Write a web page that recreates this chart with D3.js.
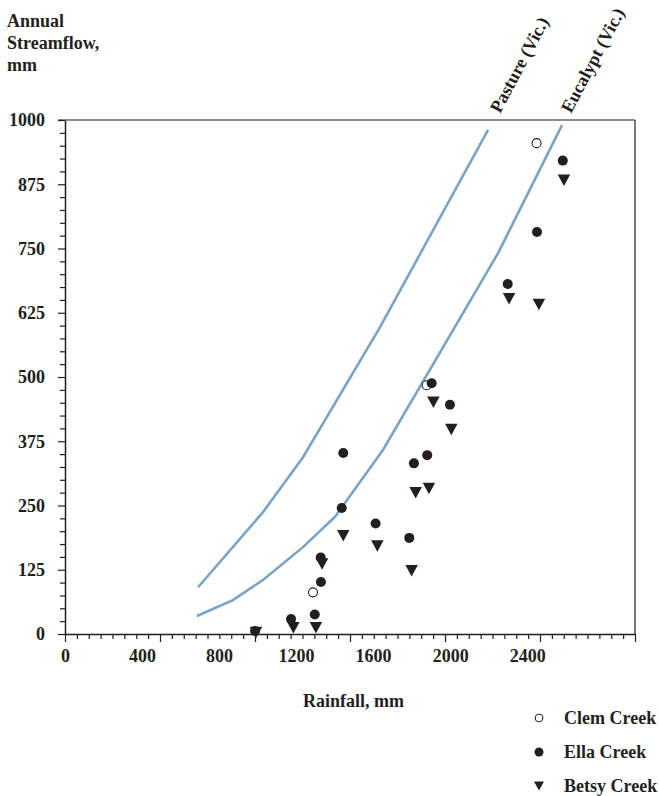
<!DOCTYPE html>
<html>
<head>
<meta charset="utf-8">
<script src="https://cdn.jsdelivr.net/npm/d3@7"></script>
<style>
  body { margin: 0; background: #fff; }
  svg text { font-family: "Liberation Serif", "Times New Roman", serif; font-weight: bold; fill: #231f20; }
</style>
</head>
<body>
<svg id="chart"></svg>
<script>
// Annual streamflow vs rainfall

// curves
const pastureRain = [691, 1028, 1236, 1636, 2197];
const pastureFlow = [91, 237, 344, 597, 981];
const eucalyptRain = [685, 872, 1028, 1236, 1402, 1651, 2249, 2581];
const eucalyptFlow = [35, 66, 105, 169, 228, 358, 741, 990];

// catchment points
const clemRain = [1288, 1878, 2449];
const clemFlow = [81, 484, 955];
const ellaRain = [987, 1174, 1297, 1329, 1328, 1437, 1445, 1613, 1788, 1812, 1881, 1904, 1999, 2299, 2451, 2585];
const ellaFlow = [6, 29, 38, 101, 149, 245, 352, 215, 187, 332, 348, 488, 446, 681, 782, 921];
const betsyRain = [992, 1186, 1303, 1335, 1445, 1622, 1800, 1821, 1890, 1913, 2006, 2306, 2461, 2591];
const betsyFlow = [3, 12, 12, 136, 191, 171, 123, 275, 283, 451, 398, 652, 641, 883];

// axis labels
const xLabels = [0, 400, 800, 1200, 1600, 2000, 2400];
const yLabels = [0, 125, 250, 375, 500, 625, 750, 875, 1000];
const legendNames = ["Clem Creek", "Ella Creek", "Betsy Creek"];

const width = 659, height = 796;
const lineColor = "#7ba3c6";
const ink = "#231f20";

const svg = d3.select("#chart").attr("width", width).attr("height", height);

const x = d3.scaleLinear().domain([0, 2960]).range([65, 635]);
const y = d3.scaleLinear().domain([0, 1000]).range([634, 120]);

// frame (top and right)
svg.append("line")
  .attr("x1", x(0) - 7).attr("x2", x(2960))
  .attr("y1", y(1000)).attr("y2", y(1000))
  .attr("stroke", ink).attr("stroke-width", 1.2);
svg.append("line")
  .attr("x1", x(2960)).attr("x2", x(2960))
  .attr("y1", y(1000)).attr("y2", y(0))
  .attr("stroke", ink).attr("stroke-width", 1.2);

// x ticks: 48 divisions, longer every 8th
const xTicks = d3.range(0, 49).map(i => i * 2960 / 48);
svg.append("g")
  .attr("transform", `translate(0,${y(0)})`)
  .call(d3.axisBottom(x).tickValues(xTicks).tickSize(5).tickFormat("").tickSizeOuter(0))
  .call(g => g.select(".domain").attr("stroke", ink).attr("stroke-width", 1.5))
  .call(g => g.selectAll(".tick line")
    .attr("stroke", ink).attr("stroke-width", 1.2)
    .attr("y2", (d, i) => i % 8 === 0 ? 8 : 5));

svg.append("g")
  .attr("transform", `translate(0,${y(0)})`)
  .call(d3.axisBottom(x).tickValues(xLabels).tickFormat(d3.format("d")).tickSize(0).tickPadding(15))
  .call(g => g.select(".domain").remove())
  .call(g => g.selectAll("text").style("font-size", "18px"));

// y ticks every 25, longer at labelled values
const yTicks = d3.range(0, 1001, 25);
svg.append("g")
  .attr("transform", `translate(${x(0)},0)`)
  .call(d3.axisLeft(y).tickValues(yTicks).tickSize(5).tickFormat("").tickSizeOuter(0))
  .call(g => g.select(".domain").attr("stroke", ink).attr("stroke-width", 1.5))
  .call(g => g.selectAll(".tick line")
    .attr("stroke", ink).attr("stroke-width", 1.2)
    .attr("x2", d => d % 125 === 0 ? -7 : -5));

svg.append("g")
  .attr("transform", `translate(${x(0)},0)`)
  .call(d3.axisLeft(y).tickValues(yLabels).tickFormat(d3.format("d")).tickSize(0).tickPadding(20))
  .call(g => g.select(".domain").remove())
  .call(g => g.selectAll("text").style("font-size", "18px"));

// axis titles
const yTitle = svg.append("text").attr("x", 7).attr("y", 27).style("font-size", "18px");
["Annual", "Streamflow,", "mm"].forEach((t, i) => {
  yTitle.append("tspan").attr("x", 7).attr("dy", i === 0 ? 0 : 22).text(t);
});
svg.append("text")
  .attr("x", 303).attr("y", 707)
  .style("font-size", "18px")
  .text("Rainfall, mm");

// curves
const line = d3.line().x(d => x(d[0])).y(d => y(d[1]));
const curves = [
  { name: "Pasture (Vic.)", pts: d3.zip(pastureRain, pastureFlow), lx: 500, ly: 114 },
  { name: "Eucalypt (Vic.)", pts: d3.zip(eucalyptRain, eucalyptFlow), lx: 571, ly: 114 }
];
svg.selectAll(".curve")
  .data(curves)
  .enter()
  .append("path")
  .attr("class", "curve")
  .attr("d", d => line(d.pts))
  .attr("fill", "none")
  .attr("stroke", lineColor)
  .attr("stroke-width", 2.6);

svg.selectAll(".curve-label")
  .data(curves)
  .enter()
  .append("text")
  .attr("class", "curve-label")
  .attr("transform", d => `translate(${d.lx},${d.ly}) rotate(-62)`)
  .style("font-size", "18px")
  .text(d => d.name);

// markers
function triangle(sel, w) {
  // downward triangle of width w centred on the point
  const h = w * 0.92;
  sel.attr("d", `M${-w / 2},${-h / 2}L${w / 2},${-h / 2}L0,${h / 2}Z`);
}

// open circles first, the filled ones sit on top of them
svg.selectAll(".clem")
  .data(d3.zip(clemRain, clemFlow))
  .enter()
  .append("circle")
  .attr("class", "clem")
  .attr("cx", d => x(d[0]))
  .attr("cy", d => y(d[1]))
  .attr("r", 4.5)
  .attr("fill", "#fff")
  .attr("stroke", ink)
  .attr("stroke-width", 1.1);

svg.selectAll(".ella")
  .data(d3.zip(ellaRain, ellaFlow))
  .enter()
  .append("circle")
  .attr("class", "ella")
  .attr("cx", d => x(d[0]))
  .attr("cy", d => y(d[1]))
  .attr("r", 5)
  .attr("fill", ink);

svg.selectAll(".betsy")
  .data(d3.zip(betsyRain, betsyFlow))
  .enter()
  .append("path")
  .attr("class", "betsy")
  .attr("transform", d => `translate(${x(d[0])},${y(d[1])})`)
  .call(triangle, 12.5)
  .attr("fill", ink);

// legend
const legend = svg.selectAll(".legend-item")
  .data(legendNames)
  .enter()
  .append("g")
  .attr("class", "legend-item")
  .attr("transform", (d, i) => `translate(539,${718 + i * 34})`);

legend.each(function (d, i) {
  const g = d3.select(this);
  if (i === 0) {
    g.append("circle").attr("r", 3.8).attr("fill", "#fff").attr("stroke", ink).attr("stroke-width", 1.1);
  } else if (i === 1) {
    g.append("circle").attr("r", 4.5).attr("fill", ink);
  } else {
    g.append("path").call(triangle, 10).attr("fill", ink);
  }
  g.append("text")
    .attr("x", 25)
    .attr("dy", "0.35em")
    .style("font-size", "18px")
    .text(d);
});
</script>
</body>
</html>
